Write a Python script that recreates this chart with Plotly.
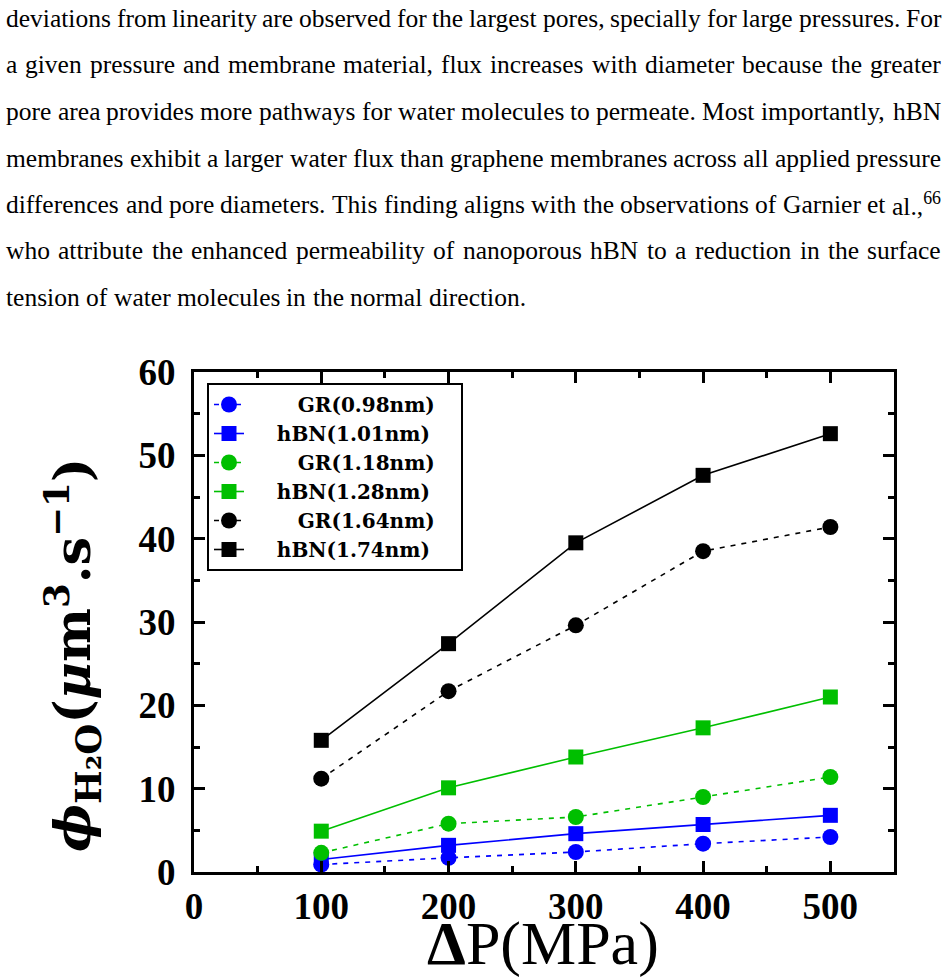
import plotly.graph_objects as go

W, H = 947, 977

# ---------------- data ----------------
pressure = [100, 200, 300, 400, 500]
series_names = ["GR(0.98nm)", "hBN(1.01nm)", "GR(1.18nm)", "hBN(1.28nm)", "GR(1.64nm)", "hBN(1.74nm)"]
gr_098 = [0.9, 1.7, 2.4, 3.4, 4.2]
hbn_101 = [1.5, 3.2, 4.6, 5.7, 6.8]
gr_118 = [2.3, 5.8, 6.6, 9.0, 11.4]
hbn_128 = [4.9, 10.1, 13.8, 17.3, 21.0]
gr_164 = [11.2, 21.7, 29.6, 38.5, 41.4]
hbn_174 = [15.8, 27.4, 39.5, 47.6, 52.6]
x_ticks = [0, 100, 200, 300, 400, 500]
y_ticks = [0, 10, 20, 30, 40, 50, 60]

paragraph = [
    "deviations from linearity are observed for the largest pores, specially for large pressures. For",
    "a given pressure and membrane material, flux increases with diameter because the greater",
    "pore area provides more pathways for water molecules to permeate. Most importantly, hBN",
    "membranes exhibit a larger water flux than graphene membranes across all applied pressure",
    "differences and pore diameters. This finding aligns with the observations of Garnier et al.,<sup>66</sup>",
    "who attribute the enhanced permeability of nanoporous hBN to a reduction in the surface",
    "tension of water molecules in the normal direction.",
]

# ---------------- styles ----------------
BLUE, GREEN, BLACK = "#0000ff", "#00bf00", "#000000"
styles = [
    (BLUE, "circle", "5px,6px"), (BLUE, "square", "solid"),
    (GREEN, "circle", "5px,6px"), (GREEN, "square", "solid"),
    (BLACK, "circle", "5px,6px"), (BLACK, "square", "solid"),
]
values = [gr_098, hbn_101, gr_118, hbn_128, gr_164, hbn_174]

NB = "\u00a0"
fig = go.Figure()
for name, vals, (col, sym, dash) in zip(series_names, values, styles):
    label = (NB * 7 + name + NB * 3) if name.startswith("GR") else (NB * 4 + name + NB * 3)
    fig.add_trace(go.Scatter(
        x=pressure, y=vals, name=label, mode="lines+markers",
        line=dict(color=col, width=1.6, dash=dash),
        marker=dict(color=col, symbol=sym, size=16 if sym == "circle" else 15,
                    line=dict(width=0)),
    ))

# plot area in pixels
L, R, T, B = 194, 894, 372, 872

axis_common = dict(
    showline=True, linecolor="black", linewidth=3, mirror="allticks",
    ticks="inside", ticklen=11, tickwidth=2.5, tickcolor="black",
    showgrid=False, zeroline=False, automargin=False,
    tickfont=dict(family="Liberation Serif", size=37, color="black", weight="bold"),
)

fig.update_layout(
    width=W, height=H,
    margin=dict(l=0, r=0, t=0, b=0, autoexpand=False),
    paper_bgcolor="white", plot_bgcolor="white",
    xaxis=dict(domain=[L / W, R / W], range=[0, 550], tickvals=x_ticks,
               minor=dict(dtick=50, ticks="inside", ticklen=6, tickwidth=2.5, tickcolor="black"),
               ticklabelstandoff=0, **axis_common),
    yaxis=dict(domain=[1 - B / H, 1 - T / H], range=[0, 60], tickvals=y_ticks,
               minor=dict(dtick=5, ticks="inside", ticklen=6, tickwidth=2.5, tickcolor="black"),
               ticklabelstandoff=8, **axis_common),
    legend=dict(x=207 / W, y=1 - 383 / H, xanchor="left", yanchor="top",
                bgcolor="white", bordercolor="black", borderwidth=2,
                font=dict(family="DejaVu Serif", size=20, color="black", weight="bold"),
                tracegroupgap=0),
    showlegend=True,
)

ann = []
# axis titles
ann.append(dict(
    text="<b><i>ϕ</i><sub>H₂O</sub>(<i>μ</i>m<sup>3</sup>.s<sup>−1</sup>)</b>",
    x=72 / W, y=1 - 655 / H, xref="paper", yref="paper", showarrow=False,
    xanchor="center", yanchor="middle",
    textangle=-90, font=dict(family="DejaVu Serif", size=51, color="black"),
))
ann.append(dict(
    text="<b>Δ</b>P(MPa)", x=543 / W, y=1 - 943 / H, xref="paper", yref="paper",
    xanchor="center", yanchor="middle",
    showarrow=False, font=dict(family="Liberation Serif", size=62, color="black"),
))

# ---------------- justified paragraph (Times metrics) ----------------
TW = {' ': 250, '(': 333, ')': 333, ',': 250, '-': 333, '.': 250, ':': 278, ';': 278,
      'A': 722, 'B': 667, 'C': 667, 'D': 722, 'E': 611, 'F': 556, 'G': 722, 'H': 722, 'I': 333,
      'J': 389, 'K': 722, 'L': 611, 'M': 889, 'N': 722, 'O': 722, 'P': 556, 'Q': 722, 'R': 667,
      'S': 556, 'T': 611, 'U': 722, 'V': 722, 'W': 944, 'X': 722, 'Y': 722, 'Z': 611,
      'a': 444, 'b': 500, 'c': 444, 'd': 500, 'e': 444, 'f': 333, 'g': 500, 'h': 500, 'i': 278,
      'j': 278, 'k': 500, 'l': 278, 'm': 778, 'n': 500, 'o': 500, 'p': 500, 'q': 500, 'r': 333,
      's': 389, 't': 278, 'u': 500, 'v': 500, 'w': 722, 'x': 500, 'y': 500, 'z': 444}
FS = 25.5


def word_width(w):
    sup = 0
    if "<sup>" in w:
        base, rest = w.split("<sup>")
        supt = rest.replace("</sup>", "")
        sup = sum(TW.get(c, 500) for c in supt) * 0.7
        w = base
    return (sum(TW.get(c, 500) for c in w) + sup) / 1000 * FS


X0, X1 = 5, 940
line_y = [19, 65, 112, 158, 204, 251, 298]
for i, (line, ly) in enumerate(zip(paragraph, line_y)):
    words = line.split(" ")
    widths = [word_width(w) for w in words]
    if i == len(paragraph) - 1:
        gap = 0.25 * FS
    else:
        gap = (X1 - X0 - sum(widths)) / (len(words) - 1)
    x = X0
    for w, wd in zip(words, widths):
        ann.append(dict(text=w, x=x / W, y=1 - ly / H, xref="paper", yref="paper",
                        xanchor="left", yanchor="middle", showarrow=False, borderpad=0,
                        font=dict(family="Liberation Serif", size=FS, color="black")))
        x += wd + gap

fig.update_layout(annotations=ann)
fig.write_html("out.html")
